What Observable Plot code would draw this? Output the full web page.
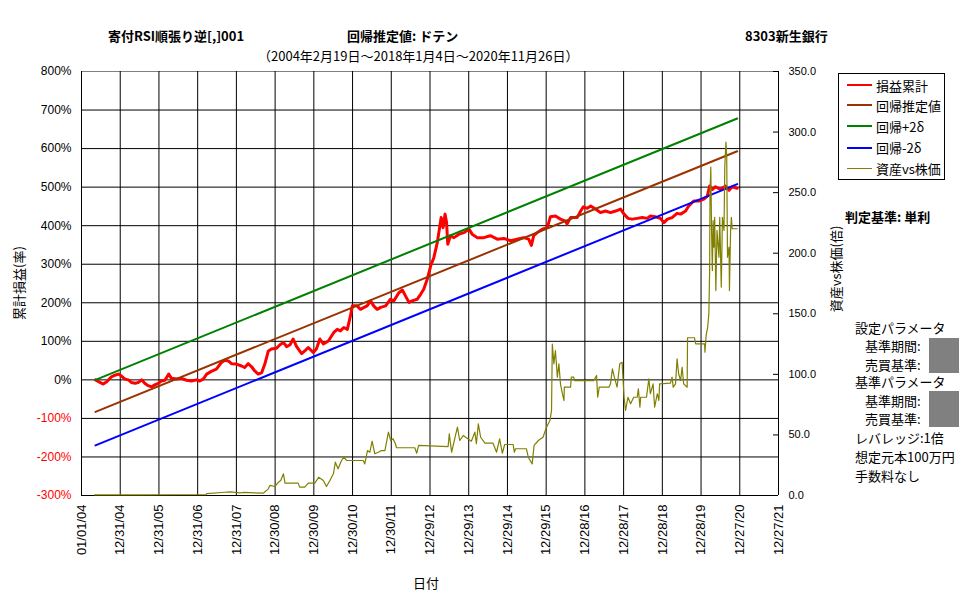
<!DOCTYPE html>
<html>
<head>
<meta charset="utf-8">
<script src="https://cdn.jsdelivr.net/npm/d3@7"></script>
<script src="https://cdn.jsdelivr.net/npm/@observablehq/plot@0.6"></script>
<style>
  body { margin: 0; background: #fff; }
  #wrap { position: relative; width: 977px; height: 600px; overflow: hidden;
          font-family: "Noto Sans CJK JP", "Noto Sans", sans-serif; color: #000; }
  #wrap svg { position: absolute; left: 0; top: 0; }
  .t { position: absolute; white-space: nowrap; font-size: 13px; line-height: 13px; }
  .b { font-weight: bold; }
  .rot { position: absolute; white-space: nowrap; font-size: 13px; line-height: 13px;
         transform: translate(-50%, -50%) rotate(-90deg); }
  .mask { position: absolute; background: #808080; }
  #legend { position: absolute; left: 838px; top: 73px; width: 105px; height: 105px;
            border: 1px solid #000; background: #fff; }
  #legend .row { position: absolute; left: 0; height: 13px; }
  #legend .swatch { position: absolute; left: 8px; width: 25px; }
  #legend .lab { position: absolute; left: 37px; top: 0; font-size: 13px; line-height: 13px; white-space: nowrap; }
</style>
</head>
<body>
<div id="wrap"></div>
<script>
// ---- data -------------------------------------------------------------
// x tick labels (one every 365 days)
const xTickLabels = ["01/01/04", "12/31/04", "12/31/05", "12/31/06", "12/31/07", "12/30/08",
  "12/30/09", "12/30/10", "12/30/11", "12/29/12", "12/29/13", "12/29/14", "12/29/15",
  "12/28/16", "12/28/17", "12/28/18", "12/28/19", "12/27/20", "12/27/21"];
// left axis: cumulative P&L (%)
const pctTicks = [-300, -200, -100, 0, 100, 200, 300, 400, 500, 600, 700, 800];
// right axis: asset vs share price (times)
const ratioTicks = [0, 50, 100, 150, 200, 250, 300, 350];

// 損益累計 : [decimal year, %]
const pnl = [[2004.36,0],[2004.43,-4],[2004.56,-11],[2004.65,-5],[2004.77,8],[2004.86,12],[2004.95,15],
  [2005.03,10],[2005.12,2],[2005.21,0],[2005.29,-7],[2005.38,-9],[2005.46,-7],[2005.55,0],[2005.63,-9],
  [2005.72,-15],[2005.81,-18],[2005.89,-13],[2005.98,-9],[2006.06,-3],[2006.15,-1],[2006.25,15],
  [2006.32,4],[2006.45,2],[2006.58,4],[2006.71,-1],[2006.84,-3],[2006.97,0],[2007.05,-3],[2007.14,2],
  [2007.23,15],[2007.35,22],[2007.48,28],[2007.61,45],[2007.70,51],[2007.79,49],[2007.87,42],
  [2008.00,41],[2008.13,36],[2008.21,32],[2008.30,42],[2008.39,34],[2008.47,23],[2008.56,15],
  [2008.65,19],[2008.73,41],[2008.82,75],[2008.90,80],[2009.03,82],[2009.12,91],[2009.21,97],
  [2009.29,86],[2009.38,91],[2009.46,106],[2009.55,86],[2009.68,68],[2009.76,75],[2009.85,84],
  [2009.98,71],[2010.06,80],[2010.15,106],[2010.24,93],[2010.37,101],[2010.51,123],[2010.60,131],
  [2010.68,127],[2010.77,136],[2010.86,131],[2010.94,166],[2010.99,192],[2011.11,192],[2011.20,183],
  [2011.29,188],[2011.37,192],[2011.46,205],[2011.54,192],[2011.63,183],[2011.72,188],[2011.85,192],
  [2011.97,209],[2012.06,205],[2012.19,226],[2012.28,233],[2012.36,218],[2012.45,201],[2012.53,205],
  [2012.66,209],[2012.75,222],[2012.83,235],[2012.92,261],[2013.01,296],[2013.09,317],[2013.18,356],
  [2013.22,382],[2013.28,421],[2013.33,395],[2013.38,430],[2013.42,408],[2013.45,352],[2013.52,374],
  [2013.61,369],[2013.74,378],[2013.87,382],[2014.00,391],[2014.08,378],[2014.21,369],[2014.38,369],
  [2014.55,374],[2014.73,365],[2014.90,367],[2015.07,361],[2015.24,365],[2015.41,369],[2015.54,365],
  [2015.61,349],[2015.67,374],[2015.76,382],[2015.89,391],[2016.02,395],[2016.10,423],[2016.23,425],
  [2016.36,417],[2016.49,412],[2016.53,404],[2016.62,421],[2016.79,421],[2016.88,438],[2016.95,449],
  [2017.05,445],[2017.14,451],[2017.26,443],[2017.39,434],[2017.52,438],[2017.65,434],[2017.78,438],
  [2017.91,443],[2018.00,430],[2018.10,419],[2018.21,417],[2018.34,419],[2018.47,421],[2018.60,419],
  [2018.68,425],[2018.81,423],[2018.94,419],[2019.03,408],[2019.12,417],[2019.24,421],[2019.37,432],
  [2019.46,430],[2019.59,438],[2019.67,451],[2019.80,464],[2019.93,464],[2020.06,469],[2020.15,477],
  [2020.21,503],[2020.28,494],[2020.36,501],[2020.49,494],[2020.62,503],[2020.71,492],[2020.79,501],
  [2020.92,497]];

// regression period and line end values (%)
const regYears = [2004.36, 2020.92];
const regMid = [-83, 593];     // 回帰推定値
const regUpper = [0, 678];     // 回帰+2δ
const regLower = [-170, 508];  // 回帰-2δ

// 資産vs株価 : [decimal year, times]
const assetRatio = [[2004.34,0.5],[2005.50,0.5],[2006.50,0.6],[2007.21,0.6],[2007.23,1.6],[2007.70,2.7],
  [2007.83,3.0],[2008.09,2.2],[2008.17,2.5],[2008.69,1.9],[2008.82,5.5],[2008.86,8.3],[2008.99,7.4],
  [2009.08,11],[2009.14,12.4],[2009.21,17.9],[2009.25,10.2],[2009.59,10.2],[2009.63,6.9],[2009.76,6.9],
  [2009.85,10.2],[2010.02,10.2],[2010.12,15.1],[2010.24,12.4],[2010.32,7.4],[2010.41,12.4],[2010.50,17.9],
  [2010.55,27.5],[2010.62,22],[2010.71,28.9],[2010.77,31.6],[2010.84,28.9],[2011.27,28.9],[2011.31,26.1],
  [2011.38,37.1],[2011.44,35.7],[2011.50,44.8],[2011.57,34.4],[2011.66,35.7],[2011.74,37.1],[2011.83,37.1],
  [2011.92,52.3],[2011.98,45.4],[2012.04,46.8],[2012.10,42.7],[2012.13,39.4],[2012.60,39.4],[2012.65,34.9],
  [2012.70,41.3],[2013.46,40.4],[2013.49,50.9],[2013.55,35.7],[2013.63,46.8],[2013.70,56.4],[2013.76,45.4],
  [2013.85,49.5],[2014.06,44.8],[2014.15,52.3],[2014.19,42.7],[2014.24,59.2],[2014.30,48.1],[2014.41,43.2],
  [2014.62,43.2],[2014.71,35.7],[2014.79,46.8],[2014.86,34.9],[2014.92,42.1],[2015.14,42.1],[2015.17,35.7],
  [2015.20,38.6],[2015.48,38.6],[2015.53,31.6],[2015.63,26.1],[2015.68,41.3],[2015.79,45.4],[2015.91,48.1],
  [2016.00,56.4],[2016.09,61.9],[2016.13,70.2],[2016.15,125],[2016.19,108.7],[2016.23,119.7],[2016.28,97.7],
  [2016.32,108.7],[2016.36,92.2],[2016.41,84],[2016.45,78.4],[2016.46,89.4],[2016.62,89.4],[2016.64,97.7],
  [2016.70,97.7],[2016.72,94.9],[2017.22,94.9],[2017.29,99.1],[2017.32,81.1],[2017.36,89.4],[2017.61,89.4],
  [2017.65,92.2],[2017.70,104.6],[2017.75,97.7],[2017.82,89.4],[2017.89,108.7],[2017.95,110],[2018.00,81.1],
  [2018.04,70.2],[2018.10,81.1],[2018.17,75.7],[2018.25,81.1],[2018.34,81.1],[2018.37,88.1],[2018.41,72.9],
  [2018.43,81.1],[2018.58,81.1],[2018.64,96.3],[2018.68,84],[2018.75,92.2],[2018.79,72.9],[2018.86,84],
  [2018.90,78.4],[2018.92,92.2],[2019.20,92.7],[2019.24,97.7],[2019.27,89.4],[2019.33,92.2],[2019.37,112.8],
  [2019.41,100.5],[2019.46,94.9],[2019.50,105.9],[2019.54,92.2],[2019.63,89.4],[2019.64,130.2],[2019.82,130.2],
  [2019.85,125.2],[2020.08,125.2],[2020.09,118.3],[2020.12,132.1],[2020.16,138.9],[2020.19,150],[2020.21,185.7],
  [2020.22,249],[2020.24,271],[2020.26,218.8],[2020.28,185.7],[2020.30,227],[2020.32,205],[2020.34,229.7],
  [2020.37,169.2],[2020.40,218.8],[2020.45,196.7],[2020.47,229.7],[2020.51,172],[2020.54,229.7],[2020.58,218.8],
  [2020.60,271],[2020.63,291.7],[2020.65,279.3],[2020.67,196.7],[2020.71,205],[2020.72,169.2],[2020.75,218.8],
  [2020.77,229.7],[2020.79,220.2],[2020.92,220.2]];

const seriesNames = ["損益累計", "回帰推定値", "回帰+2δ", "回帰-2δ", "資産vs株価"];
const seriesColors = ["#ff0000", "#993300", "#008000", "#0000ff", "#808000"];
const seriesWidths = [3, 2, 2, 2, 1.2];
const legendWidths = [2, 2, 2, 2, 1];

// ---- helpers ----------------------------------------------------------
const parseTick = d3.utcParse("%m/%d/%y");
const xTicks = xTickLabels.map(parseTick);
function yearToDate(t) {
  const y = Math.floor(t);
  const a = Date.UTC(y, 0, 1), b = Date.UTC(y + 1, 0, 1);
  return new Date(a + (t - y) * (b - a));
}
// the right axis shares the plot area: map its 0–350 range onto -300%–800%
const yMin = pctTicks[0], yMax = pctTicks[pctTicks.length - 1];
const rMax = ratioTicks[ratioTicks.length - 1];
const toLeft = v => yMin + v * (yMax - yMin) / rMax;
const toRight = v => (v - yMin) * rMax / (yMax - yMin);

const regLines = [regMid, regUpper, regLower].map(vals =>
  regYears.map((t, i) => ({date: yearToDate(t), value: vals[i]})));
const pnlData = pnl.map(([t, v]) => ({date: yearToDate(t), value: v}));
const assetData = assetRatio.map(([t, v]) => ({date: yearToDate(t), value: toLeft(v)}));
const xEnd = xTicks[xTicks.length - 1];

const chart = Plot.plot({
  width: 977,
  height: 600,
  marginTop: 71,
  marginRight: 199,
  marginBottom: 105,
  marginLeft: 81,
  x: {type: "utc", domain: [xTicks[0], xEnd]},
  y: {domain: [yMin, yMax]},
  style: {background: "#fff", fontFamily: "'Liberation Sans', Arial, sans-serif", fontSize: "12px", color: "#000"},
  marks: [
    // grid
    Plot.ruleY(pctTicks.filter(d => d < yMax), {stroke: "#000", strokeWidth: 1}),
    Plot.ruleY([yMax], {stroke: "#808080", strokeWidth: 1}),
    Plot.ruleX(xTicks, {stroke: "#000", strokeWidth: 1}),
    // series
    Plot.line(pnlData, {x: "date", y: "value", stroke: seriesColors[0], strokeWidth: seriesWidths[0]}),
    ...regLines.map((d, i) => Plot.line(d, {x: "date", y: "value", stroke: seriesColors[i + 1], strokeWidth: seriesWidths[i + 1]})),
    Plot.line(assetData, {x: "date", y: "value", stroke: seriesColors[4], strokeWidth: seriesWidths[4]}),
    // right axis inner ticks
    Plot.ruleY(ratioTicks.map(toLeft), {x1: () => xEnd, x2: () => xEnd, insetLeft: -5, stroke: "#000"}),
    // axes
    Plot.axisX({ticks: xTicks, tickFormat: (d, i) => xTickLabels[i], tickRotate: -90,
                tickSize: 0, tickPadding: 9, fontSize: 13, label: null}),
    Plot.axisY({anchor: "right", ticks: ratioTicks.map(toLeft), tickFormat: d => toRight(d).toFixed(1),
                tickSize: 0, tickPadding: 10, fontSize: 11, label: null}),
    Plot.text(pctTicks.filter(d => d >= 0), {y: d => d, text: d => `${d}%`, frameAnchor: "left",
                dx: -10, textAnchor: "end", fill: "#000", fontSize: 12}),
    Plot.text(pctTicks.filter(d => d < 0), {y: d => d, text: d => `${d}%`, frameAnchor: "left",
                dx: -10, textAnchor: "end", fill: "#ff0000", fontSize: 12})
  ]
});

const wrap = document.getElementById("wrap");
wrap.appendChild(chart);

// ---- titles, axis titles, notes ---------------------------------------
function addText(txt, cls, left, top) {
  const el = document.createElement("div");
  el.className = cls;
  el.textContent = txt;
  el.style.left = left + "px";
  el.style.top = top + "px";
  wrap.appendChild(el);
  return el;
}
addText("寄付RSI順張り逆[,]001", "t b", 108, 28.5);
addText("回帰推定値: ドテン", "t b", 347, 28.5);
addText("8303新生銀行", "t b", 745, 29);
addText("（2004年2月19日～2018年1月4日～2020年11月26日）", "t", 258, 48.5);
addText("累計損益(率)", "rot", 18, 283);
addText("資産vs株価(倍)", "rot", 835, 269);
addText("日付", "t", 413, 575.5);

addText("判定基準: 単利", "t b", 845, 210);
addText("設定パラメータ", "t", 855, 321);
addText("基準期間:", "t", 865, 339);
addText("売買基準:", "t", 865, 357.5);
addText("基準パラメータ", "t", 855, 375);
addText("基準期間:", "t", 865, 393.5);
addText("売買基準:", "t", 865, 411.5);
addText("レバレッジ:1倍", "t", 855, 431);
addText("想定元本100万円", "t", 855, 449.5);
addText("手数料なし", "t", 855, 468.5);
for (const [top, h] of [[338, 35], [391, 36]]) {
  const m = document.createElement("div");
  m.className = "mask";
  Object.assign(m.style, {left: "929px", top: top + "px", width: "30px", height: h + "px"});
  wrap.appendChild(m);
}

// ---- legend -----------------------------------------------------------
const legend = document.createElement("div");
legend.id = "legend";
const rowCenters = [11, 31, 52, 73.5, 94.5];
seriesNames.forEach((name, i) => {
  const row = document.createElement("div");
  row.className = "row";
  row.style.top = (rowCenters[i] - 6.5) + "px";
  const sw = document.createElement("div");
  sw.className = "swatch";
  const w = legendWidths[i];
  Object.assign(sw.style, {background: seriesColors[i], height: w + "px", top: (6.5 - w / 2) + "px"});
  const lab = document.createElement("div");
  lab.className = "lab";
  lab.textContent = name;
  row.appendChild(sw);
  row.appendChild(lab);
  legend.appendChild(row);
});
wrap.appendChild(legend);
</script>
</body>
</html>
